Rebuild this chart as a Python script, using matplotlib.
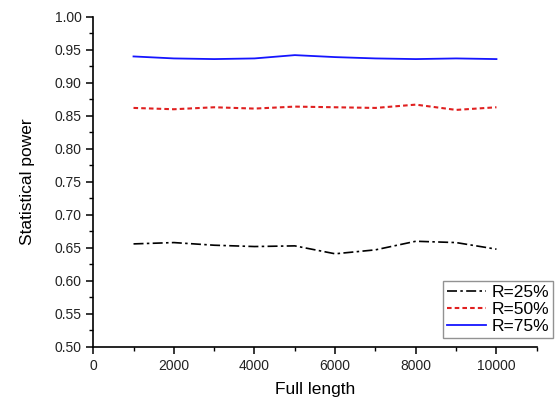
import matplotlib
matplotlib.use("Agg")
import matplotlib.pyplot as plt
from matplotlib.ticker import MultipleLocator

plt.rcParams['font.family'] = ['Liberation Sans', 'DejaVu Sans']

length = [1000, 2000, 3000, 4000, 5000, 6000, 7000, 8000, 9000, 10000]
power_25 = [0.656, 0.658, 0.654, 0.652, 0.653, 0.641, 0.647, 0.660, 0.658, 0.648]
power_50 = [0.862, 0.860, 0.863, 0.861, 0.864, 0.863, 0.862, 0.867, 0.859, 0.863]
power_75 = [0.940, 0.937, 0.936, 0.937, 0.942, 0.939, 0.937, 0.936, 0.937, 0.936]

fig = plt.figure(figsize=(5.58, 4.01), dpi=100)
ax = fig.add_axes([0.167, 0.135, 0.795, 0.823])

ax.plot(length, power_25, color='black', lw=1.2, dashes=(6, 2, 1.5, 2), label='R=25%')
ax.plot(length, power_50, color='#e02020', lw=1.5, dashes=(2.2, 1.5), label='R=50%')
ax.plot(length, power_75, color='#1515ff', lw=1.3, label='R=75%')

ax.set_xlim(0, 11000)
ax.set_ylim(0.5, 1.0)
ax.xaxis.set_major_locator(MultipleLocator(2000))
ax.xaxis.set_minor_locator(MultipleLocator(1000))
ax.yaxis.set_major_locator(MultipleLocator(0.05))
ax.yaxis.set_minor_locator(MultipleLocator(0.025))
ax.yaxis.set_major_formatter(matplotlib.ticker.FormatStrFormatter('%.2f'))

ax.spines['top'].set_visible(False)
ax.spines['right'].set_visible(False)
for s in ('left', 'bottom'):
    ax.spines[s].set_linewidth(1.2)
ax.tick_params(which='major', length=5, width=1.1, labelsize=10, colors='black')
ax.tick_params(which='minor', length=3, width=1.0)
for lbl in ax.get_xticklabels() + ax.get_yticklabels():
    lbl.set_color('#222222')

ax.set_xlabel('Full length', fontsize=12.5, labelpad=7)
ax.set_ylabel('Statistical power', fontsize=12.5, labelpad=14)

leg = ax.legend(loc='lower right', bbox_to_anchor=(1.045, 0.015), fontsize=12.5,
                frameon=True, fancybox=False, borderpad=0.25, handlelength=2.25,
                handletextpad=0.3, labelspacing=0.1, borderaxespad=0.2)
leg.get_frame().set_edgecolor('#777777')
leg.get_frame().set_linewidth(1.0)

fig.savefig('out.png', dpi=100)
